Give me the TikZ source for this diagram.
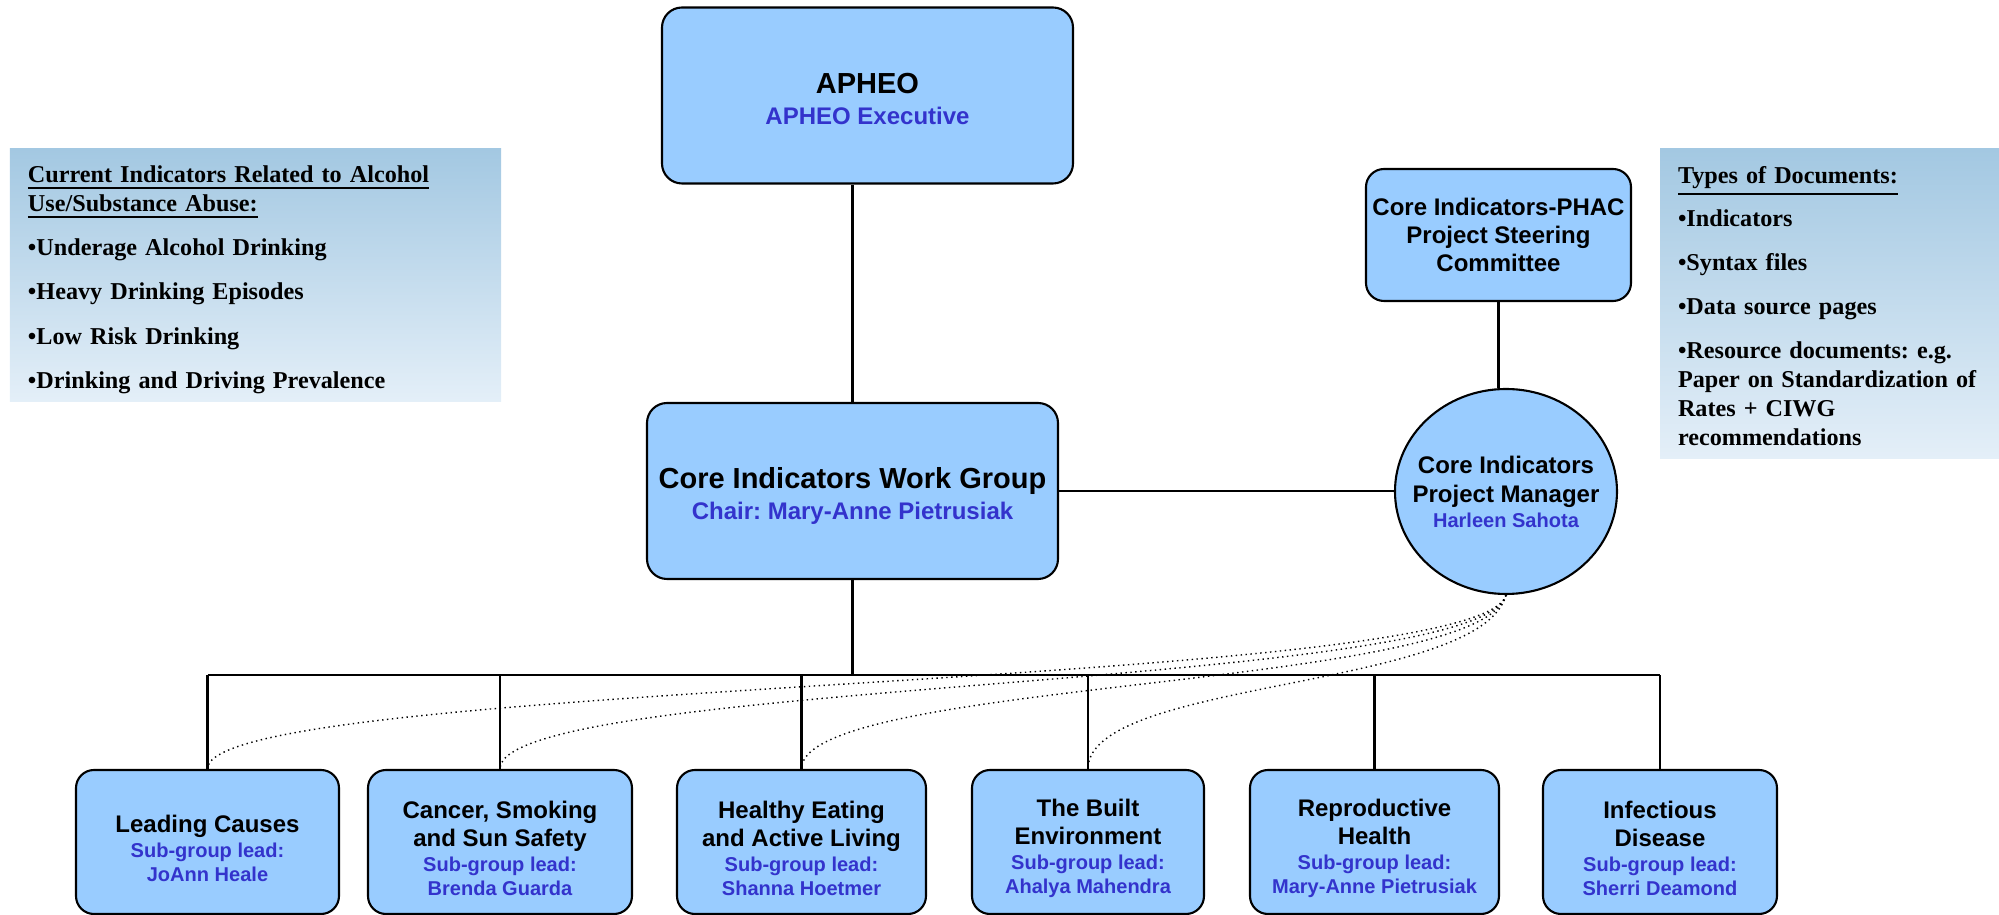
\documentclass[tikz,border=0pt]{standalone}
\usepackage{fontspec}
\setmainfont{Liberation Serif}
\setsansfont{Liberation Sans}
\usepackage{tikz}
\usetikzlibrary{shapes.geometric}
\frenchspacing

\definecolor{boxblue}{RGB}{153,204,255}
\definecolor{leadblue}{RGB}{51,51,204}
\definecolor{notetop}{RGB}{163,200,226}
\definecolor{notebottom}{RGB}{228,239,248}
\newcommand{\leadname}[1]{{\color{leadblue}\fontsize{5.7}{7}\selectfont #1}}
\newcommand{\headname}[1]{{\color{leadblue}\fontsize{6.83}{8}\selectfont #1}}
\newcommand{\lift}[1]{\rule{0pt}{#1}}

\begin{document}
\begin{tikzpicture}[line width=0.6pt,
  unit node/.style={rectangle,rounded corners=0.18cm,draw,fill=boxblue,align=center,inner sep=1pt,
    font=\sffamily\bfseries\fontsize{6.83}{8}\selectfont},
  top node/.style={unit node,rounded corners=0.2cm,minimum width=4.11cm,minimum height=1.76cm,
    font=\sffamily\bfseries\fontsize{8.25}{8.8}\selectfont},
  sub node/.style={unit node,minimum height=1.44cm},
  pm node/.style={ellipse,draw,fill=boxblue,inner sep=-0.15cm,align=center,
    minimum width=2.22cm,minimum height=2.05cm,font=\sffamily\bfseries\fontsize{6.83}{8.5}\selectfont},
  notebox/.style={top color=notetop,bottom color=notebottom,text width=#1,align=left,
    inner xsep=0.18cm,inner ysep=0.5pt,font=\bfseries\fontsize{6.88}{8.25}\selectfont}]

  \useasboundingbox (0,0) rectangle (19.99,9.15);

  \node[top node] (apheo) at (8.675,8.195) {\lift{7.5pt}APHEO\\\headname{APHEO Executive}};
  \node[top node] (ciwg) at (8.525,4.24) {\lift{8.8pt}Core Indicators Work Group\\\headname{Chair: Mary-Anne Pietrusiak}};
  \node[unit node,minimum width=2.65cm,minimum height=1.32cm] (steer) at (14.985,6.80)
    {Core Indicators-PHAC\\Project Steering\\Committee};
  \node[pm node] (pm) at (15.06,4.235) {Core Indicators\\Project Manager\\[-1.6pt]\leadname{Harleen Sahota}};

  \node[notebox=4.55cm,minimum width=4.91cm,minimum height=2.53cm] (alcohol) at (2.555,6.395)
    {\lift{7.2pt}\underline{Current Indicators Related to Alcohol}\\\underline{Use/Substance Abuse:}\\[4.3pt]
     \textbullet Underage Alcohol Drinking\\[4.3pt]
     \textbullet Heavy Drinking Episodes\\[4.3pt]
     \textbullet Low Risk Drinking\\[4.3pt]
     \textbullet Drinking and Driving Prevalence};
  \node[notebox=3.03cm,minimum width=3.39cm,minimum height=3.10cm] (docs) at (18.295,6.11)
    {\lift{6.2pt}\underline{Types of Documents:}\\[2.85pt]
     \textbullet Indicators\\[4.3pt]
     \textbullet Syntax files\\[4.3pt]
     \textbullet Data source pages\\[4.3pt]
     \textbullet Resource documents: e.g.\\Paper on Standardization of\\Rates + CIWG\\recommendations};

  \node[sub node,minimum width=2.63cm] (1) at (2.075,0.73)
    {\lift{8.6pt}Leading Causes\\[-1pt]\leadname{Sub-group lead:}\\[-1pt]\leadname{JoAnn Heale}};
  \node[sub node,minimum width=2.64cm] (2) at (5.00,0.73)
    {\lift{8.6pt}Cancer, Smoking\\and Sun Safety\\[-1pt]\leadname{Sub-group lead:}\\[-1pt]\leadname{Brenda Guarda}};
  \node[sub node,minimum width=2.49cm] (3) at (8.015,0.73)
    {\lift{8.6pt}Healthy Eating\\and Active Living\\[-1pt]\leadname{Sub-group lead:}\\[-1pt]\leadname{Shanna Hoetmer}};
  \node[sub node,minimum width=2.32cm] (4) at (10.88,0.73)
    {\lift{8.6pt}The Built\\Environment\\[-1pt]\leadname{Sub-group lead:}\\[-1pt]\leadname{Ahalya Mahendra}};
  \node[sub node,minimum width=2.49cm] (5) at (13.745,0.73)
    {\lift{8.6pt}Reproductive\\Health\\[-1pt]\leadname{Sub-group lead:}\\[-1pt]\leadname{Mary-Anne Pietrusiak}};
  \node[sub node,minimum width=2.34cm] (6) at (16.60,0.73)
    {\lift{8.6pt}Infectious\\Disease\\[-1pt]\leadname{Sub-group lead:}\\[-1pt]\leadname{Sherri Deamond}};

  \coordinate (bus) at (0,2.40);
  \draw (ciwg.north) -- (ciwg.north |- apheo.south);
  \draw (ciwg.east) -- (ciwg.east -| pm.west);
  \draw (steer.south) -- (steer.south |- pm.north);
  \draw (ciwg.south) -- (ciwg.south |- bus);
  \draw[line width=0.8pt] (1.north |- bus) -- (6.north |- bus);
  \foreach \i in {1,...,6}
    \draw (\i.north) -- (\i.north |- bus);
  \foreach \i in {1,...,4}
    \draw[densely dotted,line width=0.4pt] (pm.south) .. controls +(-0.25,-0.95) and +(0,0.9) .. (\i.north);

\end{tikzpicture}
\end{document}
